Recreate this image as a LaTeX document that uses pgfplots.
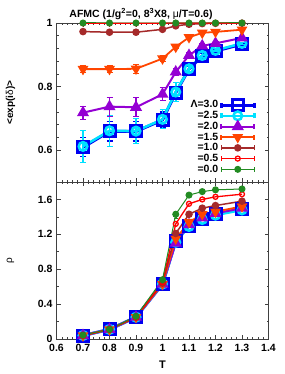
\documentclass[border=0pt]{standalone}
\usepackage{pgfplots}
\pgfplotsset{compat=1.18}
\usepackage{fontspec}
\setmainfont{Liberation Sans}
\definecolor{cB}{RGB}{0,0,240}
\definecolor{cC}{RGB}{0,225,255}
\definecolor{cP}{RGB}{148,0,211}
\definecolor{cO}{RGB}{255,69,0}
\definecolor{cBr}{RGB}{165,42,42}
\definecolor{cR}{RGB}{255,0,0}
\definecolor{cG}{RGB}{34,139,34}
\pgfplotsset{
  myax/.style={
    scale only axis, width=212pt,
    xmin=0.6, xmax=1.4, xtick={0.6,0.7,...,1.41}, minor x tick num=4,
    tick align=inside, tick pos=both,
    major tick length=4pt, minor tick length=2pt,
    axis line style={black!75, line width=0.8pt},
    every tick/.style={black!75, line width=0.6pt},
    /pgf/number format/assume math mode=true,
    tick label style={font=\fontsize{10.5}{12}\selectfont\bfseries},
    xticklabel style={yshift=-1.5pt},
    yticklabel style={xshift=-0.5pt},
    label style={font=\fontsize{11}{12}\selectfont},
    every axis y label/.style={at={(axis description cs:0,0.5)}, xshift=-46pt, rotate=90, anchor=center},
    error bars/error bar style={solid},
  },
  lg/.style={legend image code/.code={
      \draw[mark repeat=2,mark phase=2] plot coordinates {(0pt,0pt) (16.5pt,0pt) (33pt,0pt)};
      \draw[mark=none] (0pt,-2.5pt)--(0pt,2.5pt) (33pt,-2.5pt)--(33pt,2.5pt);}},
}
\begin{document}
\begin{tikzpicture}
\path[use as bounding box] (0,0) rectangle (284pt,374pt);
% top panel
\begin{axis}[myax, at={(56.5pt,192pt)}, anchor=south west, height=159pt,
  ymin=0.5, ymax=1.0, ytick={0.6,0.8,1}, minor y tick num=4,
  xticklabels={},
  ylabel={\bfseries <exp(i\mdseries δ\bfseries)>},
  legend plot pos=right, legend cell align=right,
  legend style={at={(0.955,0.535)}, anchor=north east, draw=none, fill=none,
    font=\fontsize{10.5}{11}\selectfont\bfseries, row sep=-1.1pt,
    nodes={inner sep=1.5pt}},
]
\addplot[lg, cB, line width=3pt, mark=square, mark size=5.5pt,
  error bars/.cd, y dir=both, y explicit, error bar style={line width=1.5pt}, error mark options={rotate=90,mark size=3pt,line width=1.2pt}]
 table[x=T,y=v,y error=e]{
T v e
0.7 0.609 0.03
0.8 0.659 0.03
0.9 0.659 0.03
1.0 0.695 0.025
1.05 0.781 0.02
1.1 0.855 0.01
1.15 0.896 0.008
1.2 0.912 0.005
1.3 0.933 0.004
};
\addlegendentry{Λ=3.0}
\addplot[lg, cC, line width=2.5pt, mark=o, mark size=4.3pt,
  error bars/.cd, y dir=both, y explicit, error bar style={line width=1.5pt}, error mark options={rotate=90,mark size=3pt,line width=1pt}]
 table[x=T,y=v,y error=e]{
T v e
0.7 0.612 0.05
0.8 0.661 0.048
0.9 0.660 0.04
1.0 0.697 0.03
1.05 0.783 0.03
1.1 0.856 0.012
1.15 0.898 0.008
1.2 0.914 0.005
1.3 0.936 0.004
};
\addlegendentry{=2.5}
\addplot[lg, cP, line width=2pt, mark=triangle*, mark size=5pt,
  error bars/.cd, y dir=both, y explicit, error bar style={line width=1.5pt}, error mark options={rotate=90,mark size=3pt,line width=1pt}]
 table[x=T,y=v,y error=e]{
T v e
0.7 0.718 0.02
0.8 0.737 0.03
0.9 0.735 0.03
1.0 0.776 0.02
1.05 0.846 0.012
1.1 0.898 0.008
1.15 0.928 0.006
1.2 0.936 0.005
1.3 0.953 0.004
};
\addlegendentry{=2.0}
\addplot[lg, cO, line width=1.8pt, mark=triangle*, mark size=4.5pt, mark options={rotate=180},
  error bars/.cd, y dir=both, y explicit, error bar style={line width=1.3pt}, error mark options={rotate=90,mark size=3pt,line width=1pt}]
 table[x=T,y=v,y error=e]{
T v e
0.7 0.855 0.012
0.8 0.855 0.012
0.9 0.856 0.015
1.0 0.888 0.01
1.05 0.925 0.006
1.1 0.955 0.004
1.15 0.969 0.003
1.2 0.972 0.002
1.3 0.979 0.002
};
\addlegendentry{=1.5}
\addplot[lg, cBr, line width=1.5pt, mark=*, mark size=3pt]
 table[x=T,y=v]{
T v
0.7 0.973
0.8 0.971
0.9 0.971
1.0 0.980
1.05 0.991
1.1 0.996
1.15 0.998
1.2 0.999
1.3 0.9995
};
\addlegendentry{=1.0}
\addplot[lg, cR, line width=1.3pt, mark=o, mark size=2.5pt]
 table[x=T,y=v]{
T v
0.7 0.999
0.8 0.999
0.9 0.999
1.0 0.9995
1.05 1.0
1.1 1.0
1.15 1.0
1.2 1.0
1.3 1.0
};
\addlegendentry{=0.5}
\addplot[lg, cG, line width=1pt, mark=*, mark size=3pt]
 table[x=T,y=v]{
T v
0.7 1.0
0.8 1.0
0.9 1.0
1.0 1.0
1.05 1.0
1.1 1.0
1.15 1.0
1.2 1.0
1.3 1.0
};
\addlegendentry{=0.0}
\end{axis}
% bottom panel
\begin{axis}[myax, at={(56.5pt,35pt)}, anchor=south west, height=157pt,
  ymin=0, ymax=1.8, ytick={0,0.4,...,1.61}, minor y tick num=1,
  xlabel={\bfseries T}, ylabel={ρ},
  xlabel style={yshift=-3pt},
]
\addplot[cB, line width=3pt, mark=square, mark size=5.5pt] table[x=T,y=v]{
T v
0.7 0.04
0.8 0.11
0.9 0.25
1.0 0.63
1.05 1.12
1.1 1.30
1.15 1.38
1.2 1.43
1.3 1.49
};
\addplot[cC, line width=2.5pt, mark=o, mark size=4.3pt] table[x=T,y=v]{
T v
0.7 0.04
0.8 0.11
0.9 0.25
1.0 0.63
1.05 1.11
1.1 1.29
1.15 1.37
1.2 1.42
1.3 1.48
};
\addplot[cP, line width=2pt, mark=triangle*, mark size=5pt] table[x=T,y=v]{
T v
0.7 0.04
0.8 0.11
0.9 0.25
1.0 0.63
1.05 1.10
1.1 1.31
1.15 1.39
1.2 1.44
1.3 1.50
};
\addplot[cO, line width=1.8pt, mark=triangle*, mark size=4.5pt, mark options={rotate=180}] table[x=T,y=v]{
T v
0.7 0.04
0.8 0.11
0.9 0.25
1.0 0.63
1.05 1.15
1.1 1.34
1.15 1.43
1.2 1.46
1.3 1.52
};
\addplot[cBr, line width=1.5pt, mark=*, mark size=3pt] table[x=T,y=v]{
T v
0.7 0.04
0.8 0.11
0.9 0.25
1.0 0.64
1.05 1.21
1.1 1.43
1.15 1.50
1.2 1.53
1.3 1.58
};
\addplot[cR, line width=1.3pt, mark=o, mark size=2.5pt] table[x=T,y=v]{
T v
0.7 0.04
0.8 0.11
0.9 0.25
1.0 0.65
1.05 1.32
1.1 1.55
1.15 1.60
1.2 1.63
1.3 1.66
};
\addplot[cG, line width=1pt, mark=*, mark size=3pt,
  error bars/.cd, y dir=both, y explicit, error mark options={rotate=90,mark size=2pt}] table[x=T,y=v,y error=e]{
T v e
0.7 0.045 0.005
0.8 0.11 0.005
0.9 0.26 0.01
1.0 0.68 0.02
1.05 1.43 0.04
1.1 1.65 0.01
1.15 1.69 0.01
1.2 1.71 0.01
1.3 1.72 0.01
};
\end{axis}
\node[font=\fontsize{10.5}{12}\selectfont\bfseries] at (141pt,360pt) {AFMC (1/g\textsuperscript{2}=0, 8\textsuperscript{3}X8, \mdseries μ\bfseries/T=0.6)};
\end{tikzpicture}
\end{document}
